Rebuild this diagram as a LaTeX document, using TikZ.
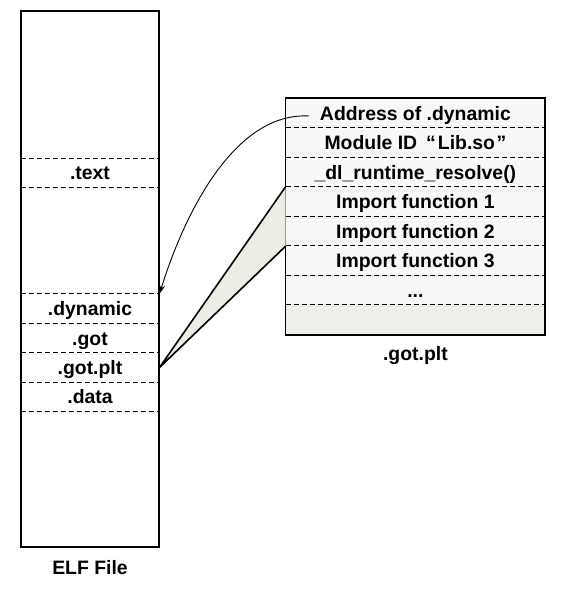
\documentclass[tikz,border=0pt]{standalone}
\usepackage{fontspec}
\setmainfont{Liberation Sans}
\usetikzlibrary{arrows.meta}
\definecolor{rowfill}{HTML}{F8F8F6}
\definecolor{bandfill}{HTML}{EFEFE9}
\definecolor{callfill}{HTML}{EDEDE5}
\tikzset{
  x=1pt, y=-1pt,
  lbl/.style={font=\fontsize{19.4}{22}\selectfont\bfseries},
  elfrow/.style={lbl, minimum width=138.6pt, minimum height=29.4pt, inner sep=0pt,
    text height=13.8pt, text depth=0pt},
  pltrow/.style={lbl, fill=rowfill, minimum width=259.3pt, minimum height=29.5pt,
    inner sep=0pt, text height=13.8pt, text depth=0pt},
  divider/.style={dash pattern=on 5pt off 3pt, line width=0.9pt},
  outline/.style={line width=1.8pt},
  callout/.style={line width=1.6pt, fill=callfill, line join=miter},
}
\begin{document}
\begin{tikzpicture}
\useasboundingbox (0,0) rectangle (563,589);
% ---------------- ELF file ----------------
\node[elfrow] (text)   at (90,173.0) {.text};
\node[elfrow] (dyn)    at (90,308.7) {.dynamic};
\node[elfrow] (got)    at (90,338.1) {.got};
\node[elfrow] (gotplt) at (90,367.5) {.got.plt};
\node[elfrow] (data)   at (90,396.9) {.data};
\draw[divider] (text.north west) -- (text.north east);
\draw[divider] (text.south west) -- (text.south east);
\foreach \r in {dyn,got,gotplt,data}
  \draw[divider] (\r.north west) -- (\r.north east);
\draw[divider] (data.south west) -- (data.south east);
\coordinate (elftl) at (20.7,11);
\coordinate (elfbr) at (159.3,546.7);
\draw[outline] (elftl) rectangle (elfbr);
\node[lbl, anchor=base] (elflabel) at (90,574) {ELF File};
% ---------------- .got.plt ----------------
\node[pltrow] (addr) at (415.4,113.25) {Address of .dynamic};
\node[pltrow] (modid) at (415.4,142.75) {Module ID\hspace{9pt}“\hspace{2pt}Lib.so\hspace{1.5pt}”};
\node[pltrow] (dlrt) at (415.4,172.25) {\_dl\_runtime\_resolve()};
\node[pltrow] (imp1) at (415.4,201.75) {Import function 1};
\node[pltrow] (imp2) at (415.4,231.25) {Import function 2};
\node[pltrow] (imp3) at (415.4,260.75) {Import function 3};
\node[pltrow] (dots) at (415.4,290.25) {...};
\node[fill=bandfill, minimum width=259.3pt, minimum height=29.5pt,
      inner sep=0pt] (band) at (415.4,319.75) {};
\foreach \r in {modid,dlrt,imp1,imp2,imp3,dots,band}
  \draw[divider] (\r.north west) -- (\r.north east);
\draw[outline] (addr.north west) rectangle (band.south east);
\node[lbl, anchor=base] (pltlabel) at (415.4,360) {.got.plt};
% ---------------- connectors ----------------
\coordinate (curvestart) at (309,116);
\draw[line width=0.9pt, -{Stealth[length=9pt,width=6pt]}]
  (curvestart) .. controls (235,112) and (185,212) .. (dyn.north east);
\draw[callout] (imp1.north west) -- (gotplt.east) -- (imp2.south west);
\end{tikzpicture}
\end{document}
